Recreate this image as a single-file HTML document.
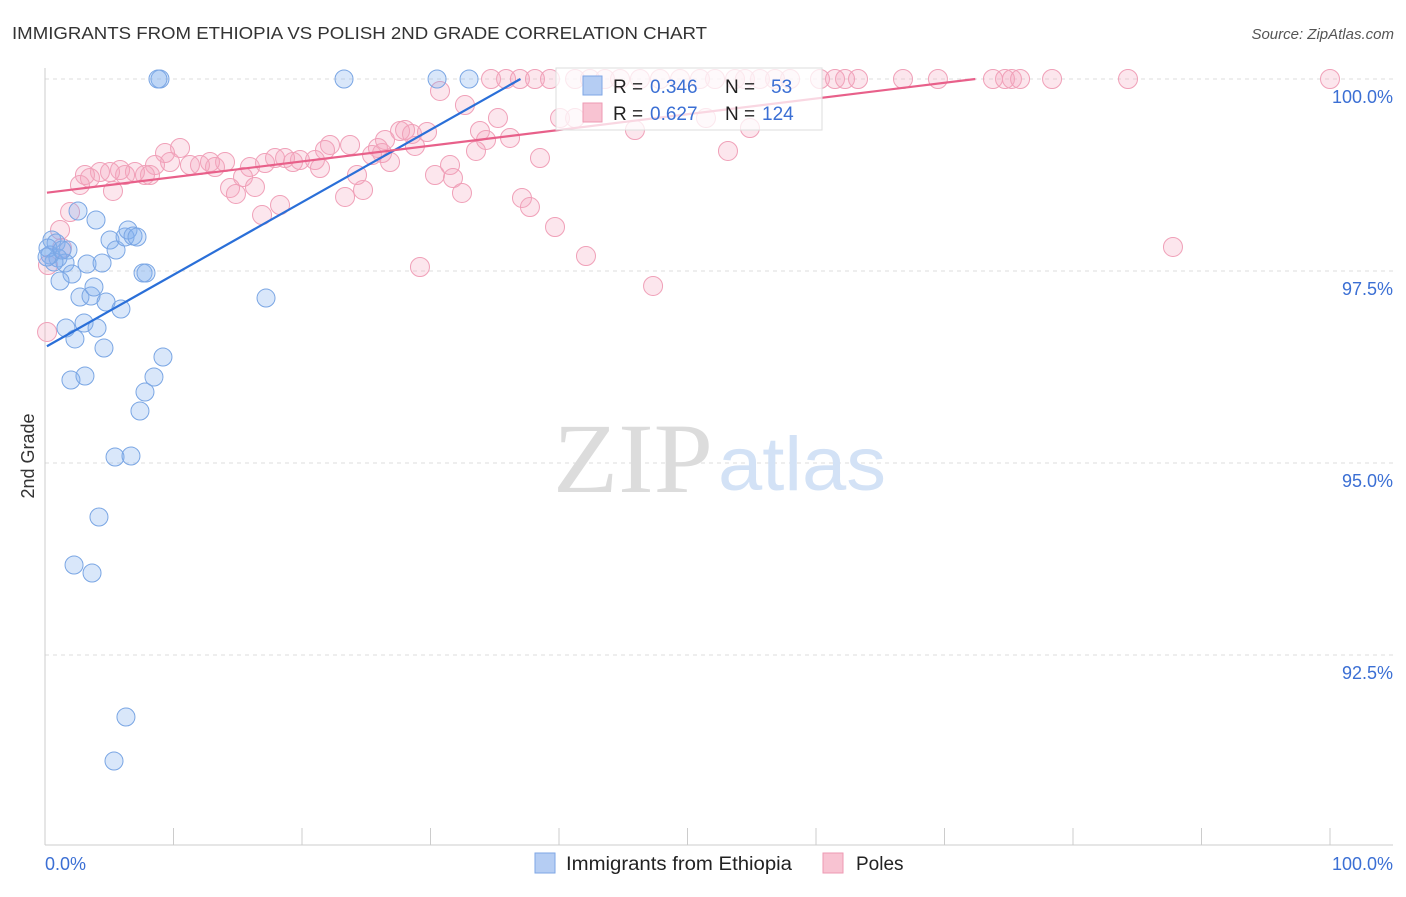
<!DOCTYPE html>
<html><head><meta charset="utf-8"><style>
body{margin:0;background:#fff;font-family:"Liberation Sans",sans-serif;}
</style></head><body>
<svg width="1406" height="892" viewBox="0 0 1406 892" xmlns="http://www.w3.org/2000/svg" font-family="Liberation Sans, sans-serif">
<text x="12" y="39" font-size="17.5" fill="#333" textLength="695" lengthAdjust="spacingAndGlyphs">IMMIGRANTS FROM ETHIOPIA VS POLISH 2ND GRADE CORRELATION CHART</text>
<text x="1394" y="39" font-size="15" fill="#555" text-anchor="end" font-style="italic">Source: ZipAtlas.com</text>
<g id="grid"></g>
<g>
<text x="553" y="492" font-size="100" fill="#dcdcdc" style="font-family:'Liberation Serif',serif" textLength="160" lengthAdjust="spacingAndGlyphs">ZIP</text>
<text x="718" y="490" font-size="76" fill="#d3e2f6" textLength="168" lengthAdjust="spacingAndGlyphs">atlas</text>
</g>
<line x1="45" y1="68" x2="45" y2="845" stroke="#ccc"/>
<line x1="45" y1="845" x2="1393" y2="845" stroke="#ccc"/>
<g id="ticks"></g>
<g id="ylabels"></g>
<text x="45" y="870" font-size="18" fill="#3b6fd4">0.0%</text>
<text x="1393" y="870" font-size="18" fill="#3b6fd4" text-anchor="end">100.0%</text>
<text x="34" y="456" font-size="18" fill="#333" text-anchor="middle" transform="rotate(-90 34 456)">2nd Grade</text>
<g id="pink"></g>
<g id="blue"></g>
<g id="trends"></g>
<g>
<rect x="556" y="68" width="266" height="62" fill="rgba(255,255,255,0.75)" stroke="#ddd"/>
<rect x="583" y="76" width="19" height="19" fill="#b5cdf3" stroke="#7ea6e6"/>
<text x="613" y="93" font-size="19" fill="#222">R = </text><text x="650" y="93" font-size="19" fill="#3b6fd4">0.346</text>
<text x="725" y="93" font-size="19" fill="#222">N = </text><text x="771" y="93" font-size="19" fill="#3b6fd4">53</text>
<rect x="583" y="103" width="19" height="19" fill="#f8c3d2" stroke="#ee9ab3"/>
<text x="613" y="120" font-size="19" fill="#222">R = </text><text x="650" y="120" font-size="19" fill="#3b6fd4">0.627</text>
<text x="725" y="120" font-size="19" fill="#222">N = </text><text x="762" y="120" font-size="19" fill="#3b6fd4">124</text>
</g>
<g>
<rect x="535" y="853" width="20" height="20" fill="#b5cdf3" stroke="#7ea6e6"/>
<text x="566" y="870" font-size="19" fill="#222" textLength="226" lengthAdjust="spacingAndGlyphs">Immigrants from Ethiopia</text>
<rect x="823" y="853" width="20" height="20" fill="#f8c3d2" stroke="#ee9ab3"/>
<text x="856" y="870" font-size="19" fill="#222">Poles</text>
</g>
</svg>
<script>
const yTicks=[100,97.5,95,92.5];
const yTickLabels=["100.0%","97.5%","95.0%","92.5%"];
const xTicks=[0,10,20,30,40,50,60,70,80,90,100];
const bluePx=[[160,79],[158,79],[344,79],[437,79],[469,79],[78,211],[96,220],[52,240],[56,243],[68,250],[110,240],[116,250],[125,237],[128,230],[133,236],[137,237],[50,255],[58,258],[65,263],[72,274],[87,264],[102,263],[60,281],[80,297],[91,296],[94,287],[106,302],[121,309],[143,273],[146,273],[266,298],[66,328],[75,339],[84,323],[97,328],[104,348],[71,380],[85,376],[163,357],[154,377],[145,392],[140,411],[115,457],[131,456],[99,517],[74,565],[92,573],[126,717],[114,761],[48,248],[54,262],[47,257],[62,250]];
const pinkPx=[[491,79],[506,79],[520,79],[535,79],[550,79],[575,79],[590,79],[605,79],[620,79],[640,79],[660,79],[680,79],[700,79],[715,79],[735,79],[745,79],[760,79],[775,79],[790,79],[820,79],[835,79],[845,79],[858,79],[903,79],[938,79],[993,79],[1005,79],[1012,79],[1020,79],[1052,79],[1128,79],[1330,79],[440,91],[465,105],[498,118],[480,131],[486,140],[510,138],[476,151],[540,158],[415,146],[400,131],[405,130],[412,134],[427,132],[385,140],[378,148],[372,155],[382,153],[390,162],[350,145],[330,145],[325,150],[315,160],[300,160],[320,168],[293,162],[285,158],[275,158],[265,163],[250,167],[225,162],[215,167],[210,162],[200,165],[190,165],[180,148],[170,162],[165,153],[155,165],[150,175],[145,175],[135,172],[125,175],[120,170],[110,172],[100,172],[90,178],[85,175],[80,185],[113,191],[243,177],[230,188],[236,194],[255,187],[262,215],[280,205],[345,197],[363,190],[357,175],[435,175],[450,165],[453,178],[462,193],[522,198],[530,207],[555,227],[586,256],[653,286],[420,267],[728,151],[750,128],[706,118],[635,130],[560,118],[575,118],[1173,247],[70,212],[60,230],[47,332],[48,265],[62,248]];
const blueX=bluePx.map(p=>+((p[0]-45)/12.85).toFixed(2));
const blueY=bluePx.map(p=>+(100-(p[1]-79)/76.8).toFixed(3));
const pinkX=pinkPx.map(p=>+((p[0]-45)/12.85).toFixed(2));
const pinkY=pinkPx.map(p=>+(100-(p[1]-79)/76.8).toFixed(3));
const blueTrend=[[0.15,96.52],[37.0,100]];
const pinkTrend=[[0.15,98.52],[72.4,100]];
const sx=v=>45+v*12.85, sy=v=>79+(100-v)*76.8;
const NS="http://www.w3.org/2000/svg";
function mk(t,a,p){const e=document.createElementNS(NS,t);for(const k in a)e.setAttribute(k,a[k]);p.appendChild(e);return e;}
const grid=document.getElementById('grid'),yl=document.getElementById('ylabels');
yTicks.forEach((v,i)=>{const l=mk('line',{x1:45,x2:1393,y1:sy(v),y2:sy(v),stroke:'#ddd','stroke-dasharray':'4,4'},grid);


const t=mk('text',{x:1393,y:sy(v)+24,'font-size':18,fill:'#3b6fd4','text-anchor':'end'},yl);t.textContent=yTickLabels[i];

});
const tk=document.getElementById('ticks');
xTicks.forEach(v=>{const l=mk('line',{x1:sx(v),x2:sx(v),y1:828,y2:845,stroke:'#ccc'},tk);

});
const pg=document.getElementById('pink');
pinkX.forEach((x,i)=>{const c=mk('circle',{cx:sx(x),cy:sy(pinkY[i]),r:9.5,fill:'rgba(245,165,190,0.28)',stroke:'#f0a0b8','stroke-width':1},pg);

});
const bg=document.getElementById('blue');
blueX.forEach((x,i)=>{const c=mk('circle',{cx:sx(x),cy:sy(blueY[i]),r:9,fill:'rgba(130,175,240,0.3)',stroke:'#7aa6e4','stroke-width':1},bg);

});
const tr=document.getElementById('trends');
const b=mk('line',{x1:sx(blueTrend[0][0]),y1:sy(blueTrend[0][1]),x2:sx(blueTrend[1][0]),y2:sy(blueTrend[1][1]),stroke:'#2a6fd8','stroke-width':2.2},tr);


const p=mk('line',{x1:sx(pinkTrend[0][0]),y1:sy(pinkTrend[0][1]),x2:sx(pinkTrend[1][0]),y2:sy(pinkTrend[1][1]),stroke:'#e8608a','stroke-width':2.2},tr);


</script>
</body></html>
